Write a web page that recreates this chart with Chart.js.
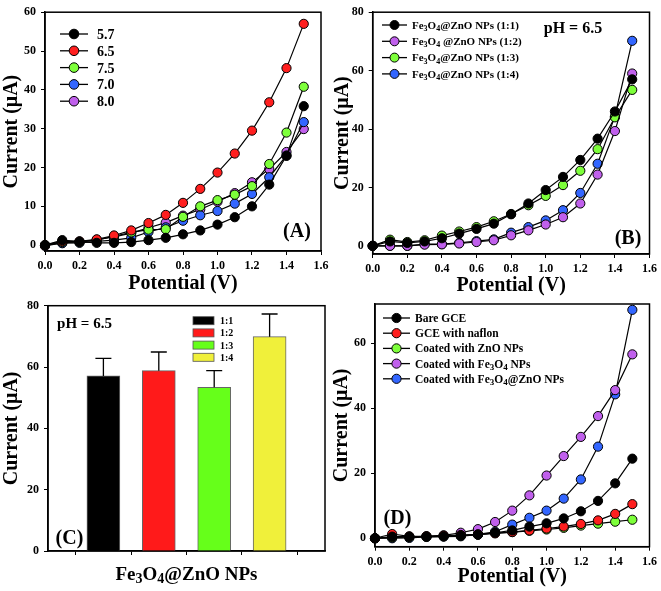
<!DOCTYPE html>
<html><head><meta charset="utf-8">
<script src="https://cdn.jsdelivr.net/npm/chart.js@4.4.1/dist/chart.umd.min.js"></script>
<style>
html,body{margin:0;padding:0;background:#fff;width:661px;height:591px;overflow:hidden}
canvas.c{position:absolute;left:0;top:0}
</style></head><body>
<canvas id="cA" class="c" width="661" height="591"></canvas>
<canvas id="cB" class="c" width="661" height="591"></canvas>
<canvas id="cC" class="c" width="661" height="591"></canvas>
<canvas id="cD" class="c" width="661" height="591"></canvas>
<script>
// ---------- DATA ----------
const potentials = [0,0.1,0.2,0.3,0.4,0.5,0.6,0.7,0.8,0.9,1.0,1.1,1.2,1.3,1.4,1.5];
const xTicks = [0,0.2,0.4,0.6,0.8,1.0,1.2,1.4,1.6];

// Panel A: pH
const phLabels = ['5.7','6.5','7.5','7.0','8.0'];
const ph57 = [0,1.3,0.9,0.6,0.6,0.8,1.3,1.9,2.8,3.8,5.3,7.2,10.0,15.6,23.0,35.8];
const ph65 = [0,1.0,1.0,1.5,2.5,3.8,5.7,7.8,10.9,14.5,18.7,23.6,29.5,36.8,45.6,57.0];
const ph75 = [0,0.8,0.8,1.3,2.3,3.3,4.0,4.1,7.3,10.0,11.6,13.0,15.2,20.9,29.0,40.8];
const ph70 = [0,0.5,0.6,1.0,1.3,1.9,3.4,4.6,6.3,7.7,8.8,10.7,13.2,17.5,23.1,31.7];
const ph80 = [-0.2,0.6,0.9,1.4,2.1,3.1,4.5,5.8,7.6,9.2,11.2,13.4,16.2,19.6,24.0,29.9];
const yTicksA = [0,10,20,30,40,50,60];

// Panel B: ratios
const ratioLabels = ['Fe₃O₄@ZnO NPs (1:1)','Fe₃O₄ @ZnO NPs (1:2)','Fe₃O₄@ZnO NPs (1:3)','Fe₃O₄@ZnO NPs (1:4)'];
const r11 = [0,1.5,1.0,1.5,2.6,4.2,5.8,7.6,10.8,14.5,19.1,23.6,29.4,36.7,46.0,57.0];
const r12 = [0,0,0,0.4,0.5,0.8,1.3,1.9,3.6,5.3,7.3,9.8,14.5,24.4,39.3,59.0];
const r13 = [0,2.1,1.3,1.9,3.5,4.9,6.4,8.4,10.9,13.9,17.1,20.8,25.7,33.1,44.0,53.4];
const r14 = [0,0,0,0.6,0.6,1.0,1.6,2.2,4.5,6.4,8.7,12.2,18.1,28.1,44.3,70.2];
const yTicksB = [0,20,40,60,80];

// Panel C: bars
const barLabels = ['1:1','1:2','1:3','1:4'];
const barValues = [57.1, 58.8, 53.4, 69.9];
const barErrors = [5.7, 6.1, 5.4, 7.4];
const yTicksC = [0,20,40,60,80];

// Panel D: electrodes
const electrodeLabels = ['Bare GCE','GCE with naflon','Coated with ZnO NPs','Coated with Fe₃O₄ NPs','Coated with Fe₃O₄@ZnO NPs'];
const bareGCE = [0,0.5,0.5,0.5,0.6,0.8,1.1,1.7,2.4,3.6,4.6,6.1,8.3,11.5,16.9,24.5];
const nafion  = [0,1.3,0.6,0.6,0.8,1.0,1.2,1.5,1.9,2.4,3.0,3.6,4.4,5.5,7.5,10.5];
const zno     = [0,0.3,0.4,0.5,0.6,0.8,1.1,1.6,1.9,2.3,2.7,3.2,3.9,4.5,5.1,5.7];
const fe3o4   = [0,0.3,0.4,0.6,0.9,1.7,2.8,5.0,8.5,13.2,19.3,25.3,31.2,37.6,45.6,56.6];
const feZnO   = [0,0,0.1,0.4,0.5,0.6,1.2,2.0,4.2,6.3,8.5,12.2,18.1,28.2,44.3,70.3];
const yTicksD = [0,20,40,60];

// ---------- STYLE ----------
const FF = '"Liberation Serif", "Times New Roman", serif';
const C_BLACK='#000000', C_RED='#ff1f1f', C_GREEN='#7dff3a', C_BLUE='#3366ff', C_PURPLE='#c060ec';
const SUB = '₀₁₂₃₄₅₆₇₈₉';

function richDraw(ctx, text, x, y, size, align){
  const segs=[];
  for (const ch of text){
    const i=SUB.indexOf(ch); const sub=i>=0; const c=sub?String(i):ch;
    const last=segs[segs.length-1];
    if(last && last.sub===sub) last.t+=c; else segs.push({t:c,sub});
  }
  const fontFor = s => `bold ${s.sub ? Math.round(size*0.75) : size}px ${FF}`;
  let w=0; segs.forEach(s=>{ctx.font=fontFor(s); s.w=ctx.measureText(s.t).width; w+=s.w;});
  let cx = align==='center' ? x-w/2 : x;
  ctx.textAlign='left'; ctx.textBaseline='alphabetic'; ctx.fillStyle='#000';
  const base = y + size*0.35;
  segs.forEach(s=>{ctx.font=fontFor(s); ctx.fillText(s.t, cx, base + (s.sub ? size*0.2 : 0)); cx+=s.w;});
}

const framePlugin = {
  id:'frame',
  beforeDatasetsDraw(chart){
    const a=chart.chartArea, ctx=chart.ctx;
    ctx.save(); ctx.strokeStyle='#000'; ctx.lineWidth=1.5;
    ctx.strokeRect(a.left,a.top,a.right-a.left,a.bottom-a.top); ctx.restore();
  }
};
const legendPlugin = {
  id:'inLegend',
  afterDraw(chart, args, o){
    if(!o || !o.x) return;
    const ctx=chart.ctx;
    chart.data.datasets.forEach((ds,i)=>{
      const y=o.y+i*o.dy;
      ctx.save();
      if(o.type==='box'){
        ctx.fillStyle=ds.backgroundColor; ctx.strokeStyle='#555'; ctx.lineWidth=0.8;
        ctx.fillRect(o.x, y-o.boxH/2, o.boxW, o.boxH);
        ctx.strokeRect(o.x, y-o.boxH/2, o.boxW, o.boxH);
      } else {
        ctx.strokeStyle='#000'; ctx.lineWidth=1.3;
        ctx.beginPath(); ctx.moveTo(o.x,y); ctx.lineTo(o.x+o.lineLen,y); ctx.stroke();
        ctx.beginPath(); ctx.arc(o.x+o.lineLen/2, y, o.r, 0, Math.PI*2);
        ctx.fillStyle=ds.pointBackgroundColor; ctx.fill(); ctx.lineWidth=1; ctx.stroke();
      }
      ctx.restore();
      richDraw(ctx, ds.label, o.textX, y, o.size, 'left');
    });
  }
};
const notesPlugin = {
  id:'notes',
  afterDraw(chart, args, o){
    if(!o || !o.items) return;
    o.items.forEach(n=>richDraw(chart.ctx, n.text, n.x, n.y, n.size, n.align||'center'));
  }
};
const errPlugin = {
  id:'errBars',
  afterDatasetsDraw(chart, args, o){
    if(!o || !o.errors) return;
    const ctx=chart.ctx, ys=chart.scales.y;
    chart.data.datasets.forEach((ds,i)=>{
      const meta=chart.getDatasetMeta(i);
      ds.data.forEach((v,j)=>{
        if(v===null) return;
        const el=meta.data[j];
        const yTop=ys.getPixelForValue(v+o.errors[i]);
        ctx.save(); ctx.strokeStyle='#000'; ctx.lineWidth=1.3;
        ctx.beginPath(); ctx.moveTo(el.x, el.y); ctx.lineTo(el.x, yTop);
        ctx.moveTo(el.x-o.cap/2, yTop); ctx.lineTo(el.x+o.cap/2, yTop); ctx.stroke();
        ctx.restore();
      });
    });
  }
};
Chart.register(framePlugin, legendPlugin, notesPlugin, errPlugin);

function tickFont(){ return {family:FF, weight:'bold', size:12}; }
function axisGrid(){ return {display:true, drawOnChartArea:false, drawTicks:true, tickLength:4, color:'#000', lineWidth:1}; }

function yAxis(min,max,ticksArr,width,titleText){
  return {
    type:'linear', min, max,
    afterBuildTicks: s=>{ s.ticks = ticksArr.map(v=>({value:v})); },
    afterFit: s=>{ s.width = width; },
    grid: axisGrid(), border:{display:true,color:'#000',width:1.5},
    ticks:{color:'#000', font:tickFont(), padding:5, autoSkip:false, callback:v=>String(v)},
    title:{display:!!titleText, text:titleText, color:'#000', font:{family:FF, weight:'bold', size:20}, padding:0}
  };
}
function xAxisPot(height){
  return {
    type:'linear', min:0, max:1.6,
    afterBuildTicks: s=>{ s.ticks = xTicks.map(v=>({value:v})); },
    afterFit: s=>{ s.height = height; },
    grid: axisGrid(), border:{display:true,color:'#000',width:1.5},
    ticks:{color:'#000', font:tickFont(), padding:4, autoSkip:false, maxRotation:0, callback:v=>Number(v).toFixed(1)},
    title:{display:true, text:'Potential (V)', color:'#000', font:{family:FF, weight:'bold', size:20}, padding:0}
  };
}
function lineDs(label, arr, color){
  return {label, data: arr.map((v,i)=>({x:potentials[i], y:v})), borderColor:'#000', borderWidth:1.2,
    pointBackgroundColor:color, pointBorderColor:'#000', pointBorderWidth:1, pointRadius:4.6,
    backgroundColor:color, tension:0, clip:false};
}
const base = {responsive:false, animation:false, devicePixelRatio:1, events:[]};

// Panel A
new Chart(document.getElementById('cA'), {
  type:'line',
  data:{datasets:[
    lineDs(phLabels[0], ph57, C_BLACK), lineDs(phLabels[1], ph65, C_RED), lineDs(phLabels[2], ph75, C_GREEN),
    lineDs(phLabels[3], ph70, C_BLUE), lineDs(phLabels[4], ph80, C_PURPLE)]},
  options:{...base,
    layout:{padding:{left:0, top:7, right:340, bottom:295}},
    scales:{x:xAxisPot(45), y:yAxis(-1.5,60,yTicksA,45,'Current (μA)')},
    plugins:{legend:{display:false}, tooltip:{enabled:false},
      inLegend:{x:60, y:34, dy:16.8, lineLen:28, r:4.8, textX:97, size:14},
      notes:{items:[{text:'(A)', x:297, y:230, size:20}]}}
  }
});

// Panel B
new Chart(document.getElementById('cB'), {
  type:'line',
  data:{datasets:[
    lineDs(ratioLabels[0], r11, C_BLACK), lineDs(ratioLabels[1], r12, C_PURPLE),
    lineDs(ratioLabels[2], r13, C_GREEN), lineDs(ratioLabels[3], r14, C_BLUE)]},
  options:{...base,
    layout:{padding:{left:331, top:8, right:10.3, bottom:293}},
    scales:{x:xAxisPot(44), y:yAxis(-2.8,80,yTicksB,41.7,'Current (μA)')},
    plugins:{legend:{display:false}, tooltip:{enabled:false},
      inLegend:{x:382, y:25, dy:16.3, lineLen:25, r:4.5, textX:412, size:11},
      notes:{items:[{text:'pH = 6.5', x:573, y:27, size:16},{text:'(B)', x:628, y:237, size:20}]}}
  }
});

// Panel C
const cPositions = ['', ...barLabels, ' '];
const barColors = [C_BLACK, '#ff1a1a', '#66ff1a', '#f0f03a'];
new Chart(document.getElementById('cC'), {
  type:'bar',
  data:{labels:cPositions,
    datasets: barLabels.map((lab,i)=>({
      label:lab,
      data: cPositions.map((_,j)=> j===i+1 ? barValues[i] : null),
      backgroundColor:barColors[i], borderColor:'#666', borderWidth:1,
      barThickness:33, grouped:false
    }))},
  options:{...base,
    layout:{padding:{left:0, top:305.7, right:336, bottom:20}},
    scales:{
      x:{type:'category', offset:false, afterFit:s=>{s.height=20;},
         grid:axisGrid(), border:{display:true,color:'#000',width:1.5}, ticks:{display:false}},
      y:yAxis(0,80,yTicksC,48,'Current (μA)')
    },
    plugins:{legend:{display:false}, tooltip:{enabled:false},
      errBars:{errors:barErrors, cap:16},
      inLegend:{type:'box', x:193, y:320.7, dy:12.2, boxW:21, boxH:8, textX:220, size:10},
      notes:{items:[{text:'pH = 6.5', x:84.5, y:323, size:15},{text:'(C)', x:69.5, y:537, size:20},
                    {text:'Fe₃O₄@ZnO NPs', x:186.5, y:573, size:19}]}}
  }
});

// Panel D
new Chart(document.getElementById('cD'), {
  type:'line',
  data:{datasets:[
    lineDs(electrodeLabels[0], bareGCE, C_BLACK), lineDs(electrodeLabels[1], nafion, C_RED),
    lineDs(electrodeLabels[2], zno, C_GREEN), lineDs(electrodeLabels[3], fe3o4, C_PURPLE),
    lineDs(electrodeLabels[4], feZnO, C_BLUE)]},
  options:{...base,
    layout:{padding:{left:330, top:304, right:10.3, bottom:2}},
    scales:{x:xAxisPot(42.3), y:yAxis(-2.6,72.1,yTicksD,45,'Current (μA)')},
    plugins:{legend:{display:false}, tooltip:{enabled:false},
      inLegend:{x:383, y:318, dy:15.2, lineLen:27, r:4.6, textX:415, size:11.5},
      notes:{items:[{text:'(D)', x:397.5, y:517, size:20}]}}
  }
});
</script>
</body></html>
